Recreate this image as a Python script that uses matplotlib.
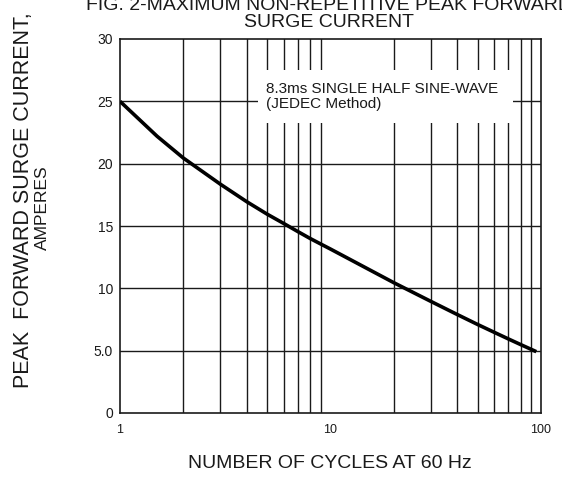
import matplotlib.pyplot as plt
from matplotlib.patches import Rectangle

plt.rcParams['font.family'] = ['Liberation Sans', 'DejaVu Sans']

# number of cycles at 60 Hz vs peak forward surge current (A)
cycles = [1, 1.5, 2, 3, 4, 5, 6, 7, 8, 9, 10, 20, 30, 40, 50, 60, 70, 80, 90, 95]
surge_amps = [25.0, 22.2, 20.45, 18.35, 16.95, 15.95, 15.2, 14.55, 14.0, 13.55,
              13.15, 10.45, 8.95, 7.9, 7.1, 6.47, 5.94, 5.49, 5.1, 4.92]

y_ticks = [0, 5, 10, 15, 20, 25, 30]
y_tick_labels = ["0", "5.0", "10", "15", "20", "25", "30"]
x_ticks = [1, 10, 100]
x_tick_labels = ["1", "10", "100"]
x_grid = [2, 3, 4, 5, 6, 7, 8, 9, 20, 30, 40, 50, 60, 70, 80, 90]
y_grid = [5, 10, 15, 20, 25]

fig = plt.figure(figsize=(5.62, 4.78), dpi=100)
ax = fig.add_axes([120 / 562, 1 - 413 / 478, 421 / 562, 374 / 478])

ax.set_xscale('log')
ax.set_xlim(1, 100)
ax.set_ylim(0, 30)

for gx in x_grid:
    ax.axvline(gx, color='#1a1a1a', lw=1.0, zorder=1)
for gy in y_grid:
    ax.axhline(gy, color='#1a1a1a', lw=1.0, zorder=1)

# white label box that hides the grid behind the note
ax.add_patch(Rectangle((0.328, 0.775), 0.605, 0.141, transform=ax.transAxes,
                       facecolor='white', edgecolor='none', zorder=2))
ax.text(0.347, 0.846, "8.3ms SINGLE HALF SINE-WAVE\n(JEDEC Method)",
        transform=ax.transAxes, ha='left', va='center', fontsize=11,
        linespacing=1.05, color='#1a1a1a', zorder=3)

ax.plot(cycles, surge_amps, color='black', lw=2.6, zorder=4,
        solid_capstyle='butt', solid_joinstyle='round')

ax.set_xticks(x_ticks)
ax.set_xticklabels(x_tick_labels)
ax.set_xticks([], minor=True)
ax.set_yticks(y_ticks)
ax.set_yticklabels(y_tick_labels)
ax.tick_params(axis='both', length=0, labelsize=10, colors='#1a1a1a')
ax.tick_params(axis='x', pad=8, labelsize=9)
ax.tick_params(axis='y', pad=5)

for sp in ax.spines.values():
    sp.set_color('#1a1a1a')
    sp.set_linewidth(1.2)

fig.text(330 / 562, 1 - 463 / 478, "NUMBER OF CYCLES AT 60 Hz",
         ha='center', va='center', fontsize=14, color='#1a1a1a')
fig.text(24 / 562, 1 - 200 / 478, "PEAK  FORWARD SURGE CURRENT,",
         ha='center', va='center', rotation=90, fontsize=15.5,
         color='#1a1a1a')
fig.text(42.5 / 562, 1 - 208 / 478, "AMPERES",
         ha='center', va='center', rotation=90, fontsize=12.5,
         color='#1a1a1a')
fig.text(329 / 562, 1 - 31 / 478,
         "FIG. 2-MAXIMUM NON-REPETITIVE PEAK FORWARD\nSURGE CURRENT",
         ha='center', va='bottom', fontsize=14, linespacing=1.02,
         color='#1a1a1a')

fig.savefig('out.png', dpi=100)
